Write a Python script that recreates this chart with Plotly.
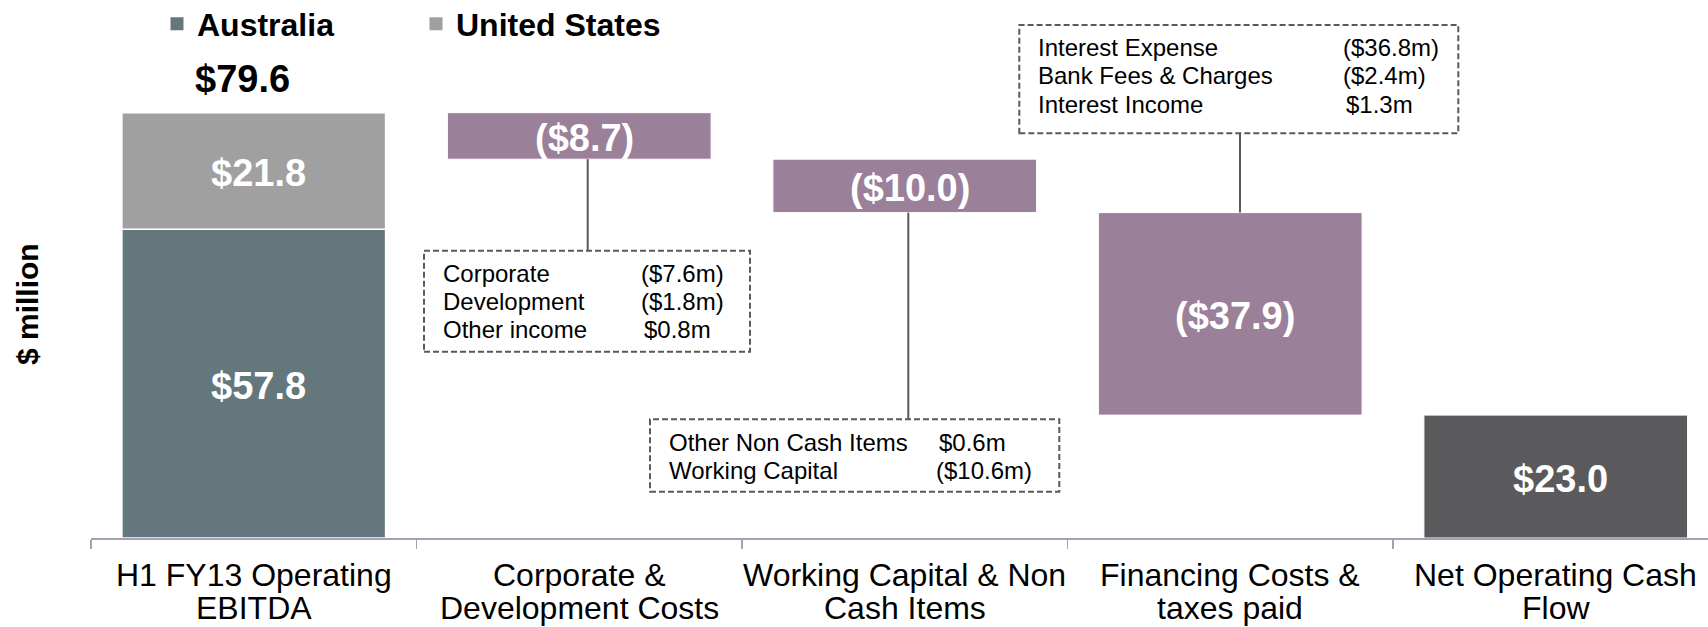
import plotly.graph_objects as go

# ---------------- data ----------------
category_lines = [
    ["H1 FY13 Operating", "EBITDA"],
    ["Corporate &", "Development Costs"],
    ["Working Capital & Non", "Cash Items"],
    ["Financing Costs &", "taxes paid"],
    ["Net Operating Cash", "Flow"],
]
categories = [" ".join(l) for l in category_lines]

ebitda_australia = 57.8
ebitda_us = 21.8
step_values = [-8.7, -10.0, -37.9]
net_cash_flow = 23.0

series_names = ["Australia", "United States"]

corp_items = ["Corporate", "Development", "Other income"]
corp_values = [-7.6, -1.8, 0.8]
wc_items = ["Other Non Cash Items", "Working Capital"]
wc_values = [0.6, -10.6]
fin_items = ["Interest Expense", "Bank Fees & Charges", "Interest Income"]
fin_values = [-36.8, -2.4, 1.3]

# ---------------- layout constants ----------------
W, H = 1708, 627
ML, MR, MT, MB = 91, 0, 4, 89
PX_PER_UNIT = 5.343
CAT_W = 325.5
PLOT_W = W - ML - MR
PLOT_H = H - MT - MB
Y_MAX = PLOT_H / PX_PER_UNIT
X_MAX = -0.5 + PLOT_W / CAT_W
BASE_Y = H - MB

FONT = "Liberation Sans, Arial, sans-serif"
C_AUS = "#64777D"
C_US = "#A0A0A0"
C_STEP = "#9A8099"
C_NET = "#5A5A5C"
C_AXIS = "#A79FB3"
C_BOX = "#5A5A5A"


def px_x(px):
    return (px - ML) / PLOT_W


def px_y(py):
    return (BASE_Y - py) / PLOT_H


def px_to_val(py):
    return (BASE_Y - py) / PX_PER_UNIT


def money(v):
    return f"(${abs(v):.1f})" if v < 0 else f"${v:.1f}"


def money_m(v):
    return f"(${abs(v):.1f}m)" if v < 0 else f"${v:.1f}m"


bar_common = dict(width=0.81, hoverinfo="skip", showlegend=False)

fig = go.Figure()

# collect (category, base, height, label) for in-bar labels
bar_labels = []

# EBITDA stacked bar
fig.add_bar(x=[categories[0]], y=[ebitda_australia], base=[0], name=series_names[0],
            marker=dict(color=C_AUS, line=dict(color="white", width=1.5)), **bar_common)
bar_labels.append((categories[0], 0, ebitda_australia, money(ebitda_australia)))
fig.add_bar(x=[categories[0]], y=[ebitda_us], base=[ebitda_australia], name=series_names[1],
            marker=dict(color=C_US, line=dict(color="white", width=1.5)), **bar_common)
bar_labels.append((categories[0], ebitda_australia, ebitda_us, money(ebitda_us)))

# floating step bars
total = ebitda_australia + ebitda_us
levels = []
lvl = total
for s in step_values:
    lvl = lvl + s
    levels.append(lvl)
fig.add_bar(x=categories[1:4], y=[abs(s) for s in step_values], base=levels,
            marker=dict(color=C_STEP, line=dict(color="white", width=1)), **bar_common)
for c, b, s in zip(categories[1:4], levels, step_values):
    bar_labels.append((c, b, abs(s), money(s)))

# net operating cash flow
fig.add_bar(x=[categories[4]], y=[net_cash_flow], base=[0],
            marker=dict(color=C_NET, line=dict(color="white", width=1)), **bar_common)
bar_labels.append((categories[4], 0, net_cash_flow, money(net_cash_flow)))

# legend entries (square markers)
for nm, col in zip(series_names, [C_AUS, C_US]):
    fig.add_scatter(x=[None], y=[None], mode="markers", name=nm,
                    marker=dict(symbol="square", size=13, color=col), hoverinfo="skip")

annotations = []
shapes = []

# in-bar labels
for c, b, h, lab in bar_labels:
    annotations.append(dict(x=c, y=b + h / 2, xref="x", yref="y", text=f"<b>{lab}</b>",
                            showarrow=False, xanchor="center", yanchor="middle", xshift=5, yshift=-2,
                            font=dict(family=FONT, size=38, color="white")))

# total label above EBITDA
annotations.append(dict(x=categories[0], y=total, xref="x", yref="y", text=f"<b>{money(total)}</b>",
                        showarrow=False, yanchor="middle", xanchor="center", xshift=-11, yshift=34,
                        font=dict(family=FONT, size=38, color="black")))

# category labels (two lines)
for cat, lines in zip(categories, category_lines):
    for line, py in zip(lines, [575.0, 608.0]):
        annotations.append(dict(x=cat, y=px_y(py), xref="x", yref="paper", text=line,
                                showarrow=False, xanchor="center", yanchor="middle",
                                font=dict(family=FONT, size=32, color="black")))

# y-axis title
annotations.append(dict(x=px_x(27), y=px_y(304), xref="paper", yref="paper", text="<b>$ million</b>",
                        textangle=-90, showarrow=False, xanchor="center", yanchor="middle",
                        font=dict(family=FONT, size=30, color="black")))

# breakdown boxes
boxes = [
    dict(items=corp_items, values=corp_values, rect=(424, 250.7, 750, 351.7),
         label_x=440.7, value_x=639, baselines=[281.7, 310.0, 338.3]),
    dict(items=wc_items, values=wc_values, rect=(650, 419.3, 1059.3, 491.7),
         label_x=666.7, value_x=934, baselines=[450.5, 479.0]),
    dict(items=fin_items, values=fin_values, rect=(1019.3, 25, 1458.3, 133.3),
         label_x=1036, value_x=1341, baselines=[56.0, 84.0, 112.5]),
]
BOX_FS = 24
for b in boxes:
    x0, y0, x1, y1 = b["rect"]
    shapes.append(dict(type="rect", xref="paper", yref="paper", x0=px_x(x0), x1=px_x(x1),
                       y0=px_y(y1), y1=px_y(y0), line=dict(color=C_BOX, width=2, dash="6px,3px"),
                       fillcolor="rgba(0,0,0,0)", layer="above"))
    for item, val, bl in zip(b["items"], b["values"], b["baselines"]):
        ym = px_y(bl - 0.35 * BOX_FS)
        annotations.append(dict(x=px_x(b["label_x"]), y=ym, xref="paper", yref="paper", text=item,
                                showarrow=False, xanchor="left", yanchor="middle",
                                font=dict(family=FONT, size=BOX_FS, color="black")))
        annotations.append(dict(x=px_x(b["value_x"] + (3 if val >= 0 else 0)), y=ym, xref="paper",
                                yref="paper", text=money_m(val), showarrow=False, xanchor="left",
                                yanchor="middle", font=dict(family=FONT, size=BOX_FS, color="black")))

# connectors
connectors = [
    (587.7, levels[0], px_to_val(250.7)),
    (908.3, levels[1], px_to_val(419.3)),
    (1240.0, px_to_val(133.3), levels[1]),
]
for cx, ya, yb in connectors:
    shapes.append(dict(type="line", xref="paper", yref="y", x0=px_x(cx), x1=px_x(cx), y0=ya, y1=yb,
                       line=dict(color=C_BOX, width=2), layer="above"))

fig.update_layout(
    width=W, height=H,
    margin=dict(l=ML, r=MR, t=MT, b=MB, pad=0, autoexpand=False),
    paper_bgcolor="white", plot_bgcolor="white",
    barmode="overlay",
    font=dict(family=FONT, color="black"),
    showlegend=True,
    legend=dict(orientation="h", x=px_x(157), xanchor="left", y=px_y(24), yanchor="middle",
                font=dict(family=FONT, size=32, color="black", weight="bold"),
                bgcolor="rgba(0,0,0,0)", itemwidth=30, entrywidth=214, entrywidthmode="pixels",
                traceorder="normal", itemclick=False, itemdoubleclick=False),
    xaxis=dict(type="category", categoryorder="array", categoryarray=categories,
               range=[-0.5, X_MAX], showline=True, linecolor=C_AXIS, linewidth=2,
               ticks="outside", tickson="boundaries", ticklen=9, tickcolor=C_AXIS, tickwidth=1.5,
               showticklabels=False, showgrid=False, zeroline=False, fixedrange=True),
    yaxis=dict(range=[0, Y_MAX], visible=False, fixedrange=True),
    annotations=annotations,
    shapes=shapes,
)

fig.write_html("out.html", config={"displayModeBar": False, "staticPlot": True},
               post_script="document.body.style.margin='0px';document.body.style.overflow='hidden';"
                           "document.documentElement.style.overflow='hidden';")
